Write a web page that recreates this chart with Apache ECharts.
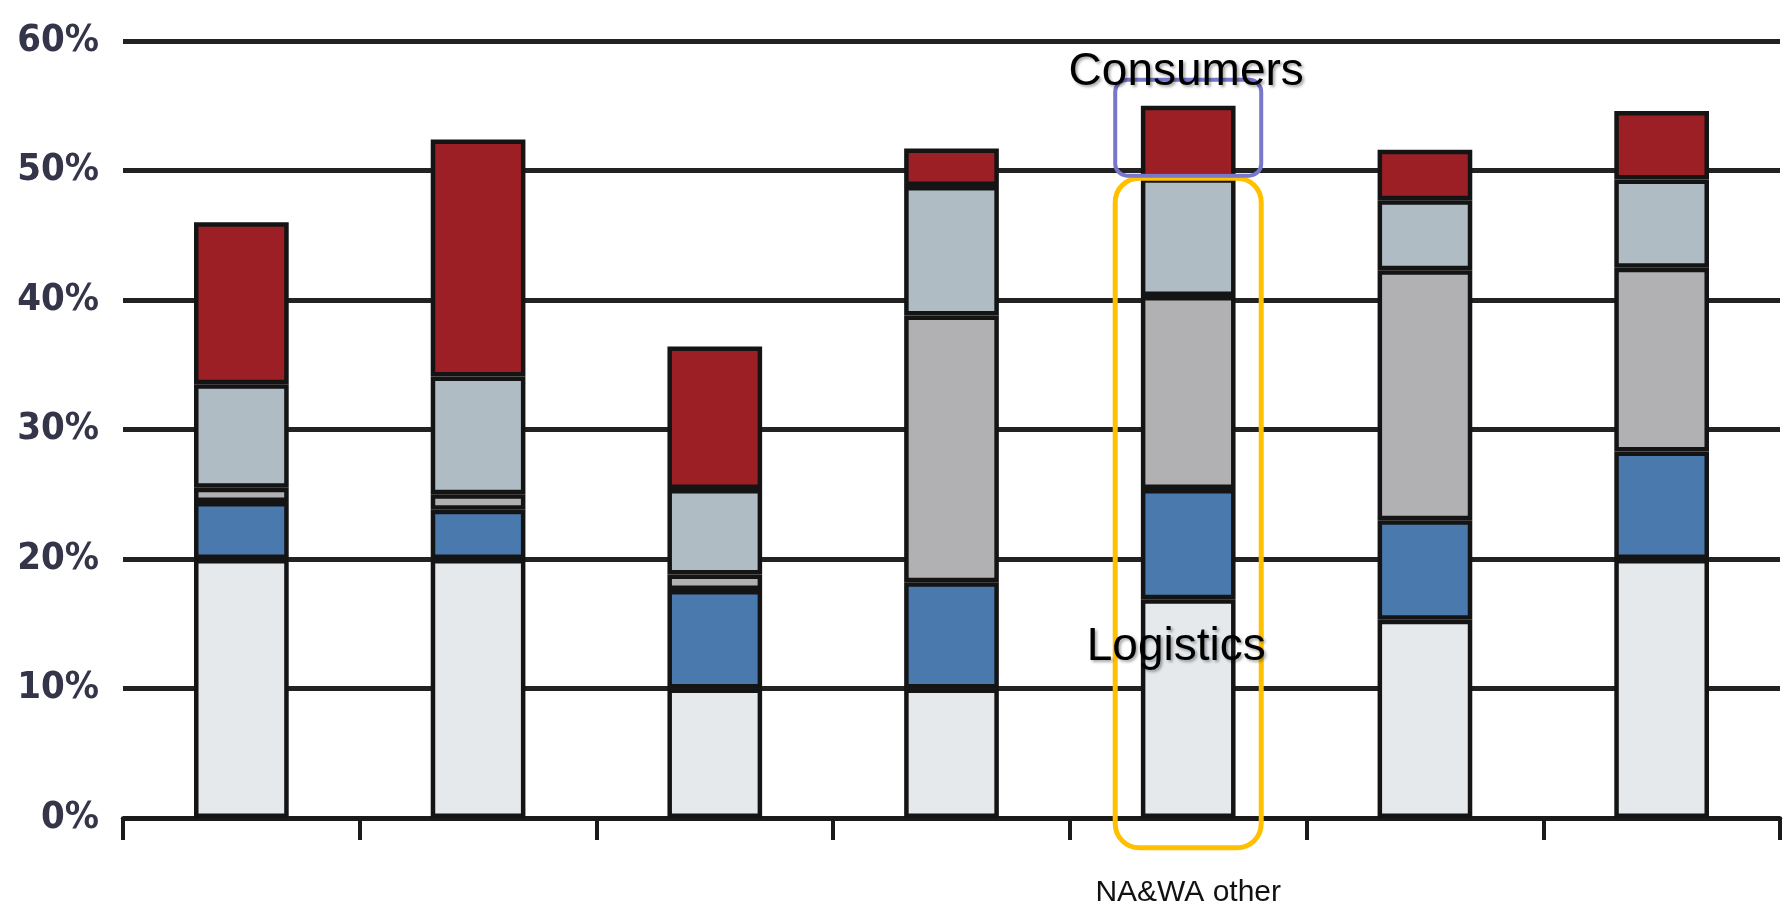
<!DOCTYPE html>
<html lang="en">
<head>
    <meta charset="UTF-8">
    <title>Stacked shares</title>
    <style>
        html, body { margin: 0; padding: 0; background: #fff; }
        #main { width: 1787px; height: 910px; }
    </style>
</head>
<body>
<script src="https://cdn.jsdelivr.net/npm/echarts@6/dist/echarts.min.js"></script>
<div id="main"></div>
<script>
    // categories, only the 5th one is labelled
    var categories = ['', '', '', '', 'NA&WA other', '', ''];
    var yTicks = [0, 10, 20, 30, 40, 50, 60];

    // stacked segments, bottom to top (percent)
    var baseShare  = [20, 20, 10, 10, 16.9, 15.3, 20];
    var blueShare  = [4.4, 3.8, 7.6, 8.2, 8.5, 7.7, 8.3];
    var grayShare  = [1.1, 1.2, 1.2, 20.6, 14.9, 19.3, 14.2];
    var slateShare = [8.0, 9.1, 6.6, 10.0, 9.1, 5.4, 6.8];
    var redShare   = [12.5, 18.3, 11.0, 2.9, 5.6, 3.9, 5.3];

    var chart = echarts.init(document.getElementById('main'));

    var makeSerie = function (name, data, color) {
        return {
            name: name,
            type: 'bar',
            stack: 'total',
            barWidth: '40%',
            data: data,
            itemStyle: {
                color: color,
                borderColor: '#141414',
                borderWidth: 4.5
            }
        };
    };

    var option = {
        animation: false,
        backgroundColor: '#fff',
        grid: { left: 123, right: 7, top: 41, bottom: 92 },
        xAxis: {
            type: 'category',
            data: categories,
            axisLine: { lineStyle: { color: '#1a1a1a', width: 4.5 } },
            axisTick: { show: true, length: 22, lineStyle: { color: '#1a1a1a', width: 4 } },
            axisLabel: {
                interval: 0,
                margin: 60,
                fontSize: 30,
                fontFamily: 'Liberation Sans, Arial, sans-serif',
                color: '#111'
            }
        },
        yAxis: {
            type: 'value',
            min: yTicks[0],
            max: yTicks[yTicks.length - 1],
            interval: 10,
            axisLine: { show: false },
            axisTick: { show: false },
            axisLabel: {
                formatter: '{value}%',
                margin: 24,
                fontSize: 38,
                fontWeight: 'bold',
                fontFamily: 'DejaVu Sans Condensed, DejaVu Sans, sans-serif',
                color: '#35354a'
            },
            splitLine: { lineStyle: { color: '#222', width: 5 } }
        },
        series: [
            makeSerie('base', baseShare, '#e5e9ec'),
            makeSerie('blue', blueShare, '#4a7aad'),
            makeSerie('gray', grayShare, '#b1b1b3'),
            makeSerie('slate', slateShare, '#afbcc4'),
            makeSerie('red', redShare, '#9c1f26')
        ]
    };
    chart.setOption(option);

    // annotation boxes around the NA&WA other column
    var idx = 4;
    var px = function (v) { return chart.convertToPixel({ xAxisIndex: 0, yAxisIndex: 0 }, [idx, v]); };
    var cx = px(0)[0];
    var halfW = 73;
    var purpleTop = px(57.0)[1], purpleBottom = px(49.6)[1];
    var orangeTop = px(49.4)[1], orangeBottom = px(-2.3)[1];
    var txtShadow = { textShadowColor: 'rgba(0,0,0,0.35)', textShadowBlur: 3, textShadowOffsetX: 2, textShadowOffsetY: 2 };

    chart.setOption({
        graphic: [
            {
                type: 'rect', z: 100,
                shape: { x: cx - halfW, y: orangeTop, width: halfW * 2, height: orangeBottom - orangeTop, r: 24 },
                style: { fill: 'none', stroke: '#ffc000', lineWidth: 5 }
            },
            {
                type: 'rect', z: 101,
                shape: { x: cx - halfW, y: purpleTop, width: halfW * 2, height: purpleBottom - purpleTop, r: 12 },
                style: { fill: 'none', stroke: '#7777cc', lineWidth: 4 }
            },
            {
                type: 'text', z: 102,
                x: cx - 2, y: purpleTop - 8,
                style: Object.assign({
                    text: 'Consumers', fill: '#000', fontSize: 46,
                    fontFamily: 'Liberation Sans, Arial, sans-serif',
                    align: 'center', verticalAlign: 'middle'
                }, txtShadow)
            },
            {
                type: 'text', z: 102,
                x: cx - 12, y: px(13.2)[1],
                style: Object.assign({
                    text: 'Logistics', fill: '#000', fontSize: 46,
                    fontFamily: 'Liberation Sans, Arial, sans-serif',
                    align: 'center', verticalAlign: 'middle'
                }, txtShadow)
            }
        ]
    });
</script>
</body>
</html>
